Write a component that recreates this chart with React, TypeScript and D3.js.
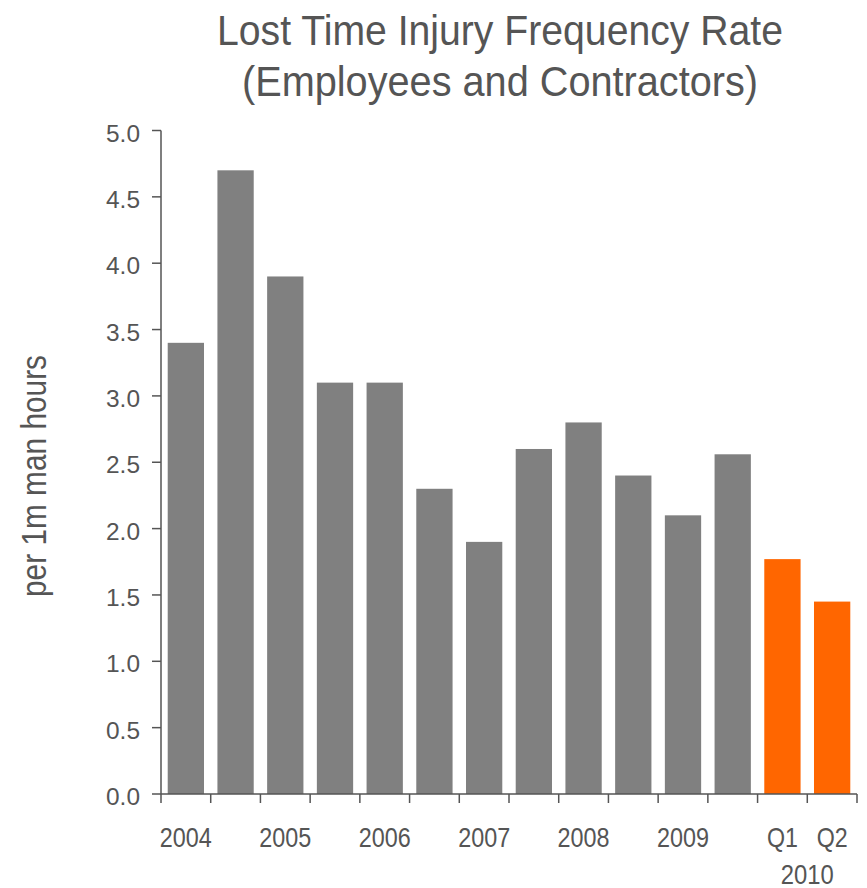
import React from "react";
import * as d3 from "d3";

const categories = ["2004 H1", "2004 H2", "2005 H1", "2005 H2", "2006 H1", "2006 H2", "2007 H1", "2007 H2", "2008 H1", "2008 H2", "2009 H1", "2009 H2", "2010 Q1", "2010 Q2"];
const values = [3.4, 4.7, 3.9, 3.1, 3.1, 2.3, 1.9, 2.6, 2.8, 2.4, 2.1, 2.56, 1.77, 1.45];
const highlighted = [false, false, false, false, false, false, false, false, false, false, false, false, true, true];
const tickLabels = ["2004", "", "2005", "", "2006", "", "2007", "", "2008", "", "2009", "", "Q1", "Q2"];
const yTicks = [0, 0.5, 1, 1.5, 2, 2.5, 3, 3.5, 4, 4.5, 5];
const groupLabel = "2010";
const titleLines = ["Lost Time Injury Frequency Rate", "(Employees and Contractors)"];
const yTitle = "per 1m man hours";

const W = 867, H = 888;
const font = "'Liberation Sans', Arial, sans-serif";
const textColor = "#555555";

export default function App() {
  const x = d3.scaleBand().domain(categories).range([161, 857]).paddingInner(0.27).paddingOuter(0.135);
  const xs = d3.scaleBand().domain(categories).range([161, 857]);
  const y = d3.scaleLinear().domain([0, 5]).range([794, 130.5]);
  const axisColor = "#555";
  const titleWidths = [566, 516];
  const titleBase = [45, 96];
  return (
    <svg width={W} height={H} style={{ position: "absolute", left: 0, top: 0, background: "#fff" }}>
      {titleLines.map((t, i) => (
        <text key={i} x={500} y={titleBase[i]} textAnchor="middle" fontFamily={font} fontSize={43} fill={textColor}
          textLength={titleWidths[i]} lengthAdjust="spacingAndGlyphs">{t}</text>
      ))}
      <text transform={`translate(46,476) rotate(-90)`} textAnchor="middle" fontFamily={font} fontSize={35} fill={textColor}
        textLength={242} lengthAdjust="spacingAndGlyphs">{yTitle}</text>
      {categories.map((c, i) => (
        <rect key={c} x={x(c)} y={y(values[i])} width={x.bandwidth()} height={y(0) - y(values[i])} fill={highlighted[i] ? "#ff6600" : "#808080"} />
      ))}
      <line x1={161} x2={161} y1={y(5)} y2={y(0)} stroke={axisColor} strokeWidth={1.5} />
      {yTicks.map((t) => (
        <g key={t}>
          <line x1={152} x2={161} y1={y(t)} y2={y(t)} stroke={axisColor} strokeWidth={1.5} />
          <text x={140} y={y(t) + 11} textAnchor="end" fontFamily={font} fontSize={24.7} fill={textColor}
            textLength={34} lengthAdjust="spacingAndGlyphs">{t.toFixed(1)}</text>
        </g>
      ))}
      <line x1={161} x2={857} y1={y(0)} y2={y(0)} stroke={axisColor} strokeWidth={1.5} />
      {[...categories.map((c) => xs(c) as number), 857].map((px, i) => (
        <line key={i} x1={px} x2={px} y1={y(0)} y2={y(0) + 9} stroke={axisColor} strokeWidth={1.5} />
      ))}
      {categories.map((c, i) => tickLabels[i] ? (
        <text key={c} x={(xs(c) as number) + xs.bandwidth() / 2} y={847} textAnchor="middle" fontFamily={font} fontSize={28.5} fill={textColor}
          textLength={tickLabels[i].length === 4 ? 52 : 31} lengthAdjust="spacingAndGlyphs">{tickLabels[i]}</text>
      ) : null)}
      <text x={xs(categories[13]) as number} y={884} textAnchor="middle" fontFamily={font} fontSize={28.5} fill={textColor}
        textLength={53} lengthAdjust="spacingAndGlyphs">{groupLabel}</text>
    </svg>
  );
}
